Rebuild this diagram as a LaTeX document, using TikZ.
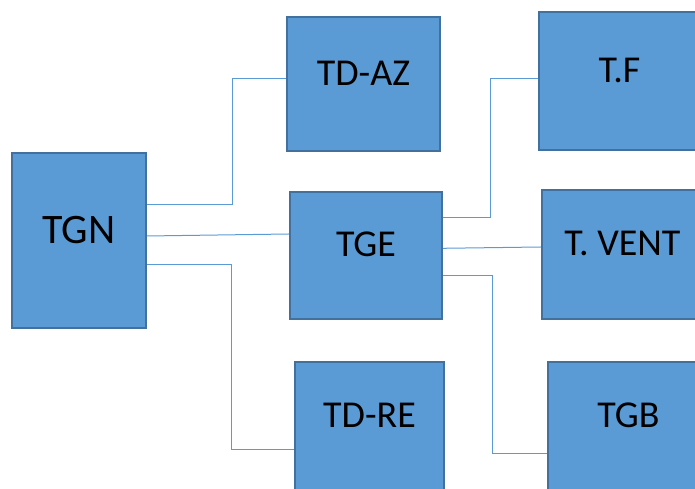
\documentclass[tikz,border=0pt]{standalone}
\usepackage{fontspec}
\setmainfont{Carlito}
\definecolor{boxfill}{HTML}{5B9BD5}
\definecolor{boxline}{HTML}{41719C}
\tikzset{
	box/.style={draw=boxline, fill=boxfill, line width=2.2pt, inner sep=0pt, text depth=22pt, font=\fontsize{38}{40}\selectfont},
	link/.style={draw=boxfill, line width=1pt}
}

\begin{document}
\begin{tikzpicture}[x=1pt,y=1pt]
	\useasboundingbox (0,0) rectangle (695,489);
	\clip (0,0) rectangle (695,489);
	\node[box, minimum width=134pt, minimum height=175pt, font=\fontsize{42}{44}\selectfont] (tgn) at (79,248.5) {TGN};
	\node[box, minimum width=153pt, minimum height=134pt] (tdaz) at (363.5,405) {TD-AZ};
	\node[box, minimum width=161pt, minimum height=138pt] (tf) at (619.5,408) {T.F};
	\node[box, minimum width=152pt, minimum height=127pt] (tge) at (366,233.5) {TGE};
	\node[box, minimum width=161pt, minimum height=129pt] (tvent) at (622.5,234.5) {T. VENT};
	\node[box, minimum width=149pt, minimum height=128pt] (tdre) at (369.5,63) {TD-RE};
	\node[box, minimum width=161pt, minimum height=128pt] (tgb) at (628.5,63) {TGB};
	\draw[link] ([yshift=35.5pt]tgn.east) -- ++(85,0) |- ([yshift=5pt]tdaz.west);
	\draw[link] ([yshift=4.5pt]tgn.east) -- ([yshift=21.5pt]tge.west);
	\draw[link] ([yshift=-23.8pt]tgn.east) -- ++(84,0) |- ([yshift=-23.7pt]tdre.west);
	\draw[link] ([yshift=37.5pt]tge.east) -- ++(47,0) |- ([yshift=2pt]tf.west);
	\draw[link] ([yshift=7.2pt]tge.east) -- ([yshift=7.5pt]tvent.west);
	\draw[link] ([yshift=-20.2pt]tge.east) -- ++(49,0) |- ([yshift=-28pt]tgb.west);
\end{tikzpicture}
\end{document}
